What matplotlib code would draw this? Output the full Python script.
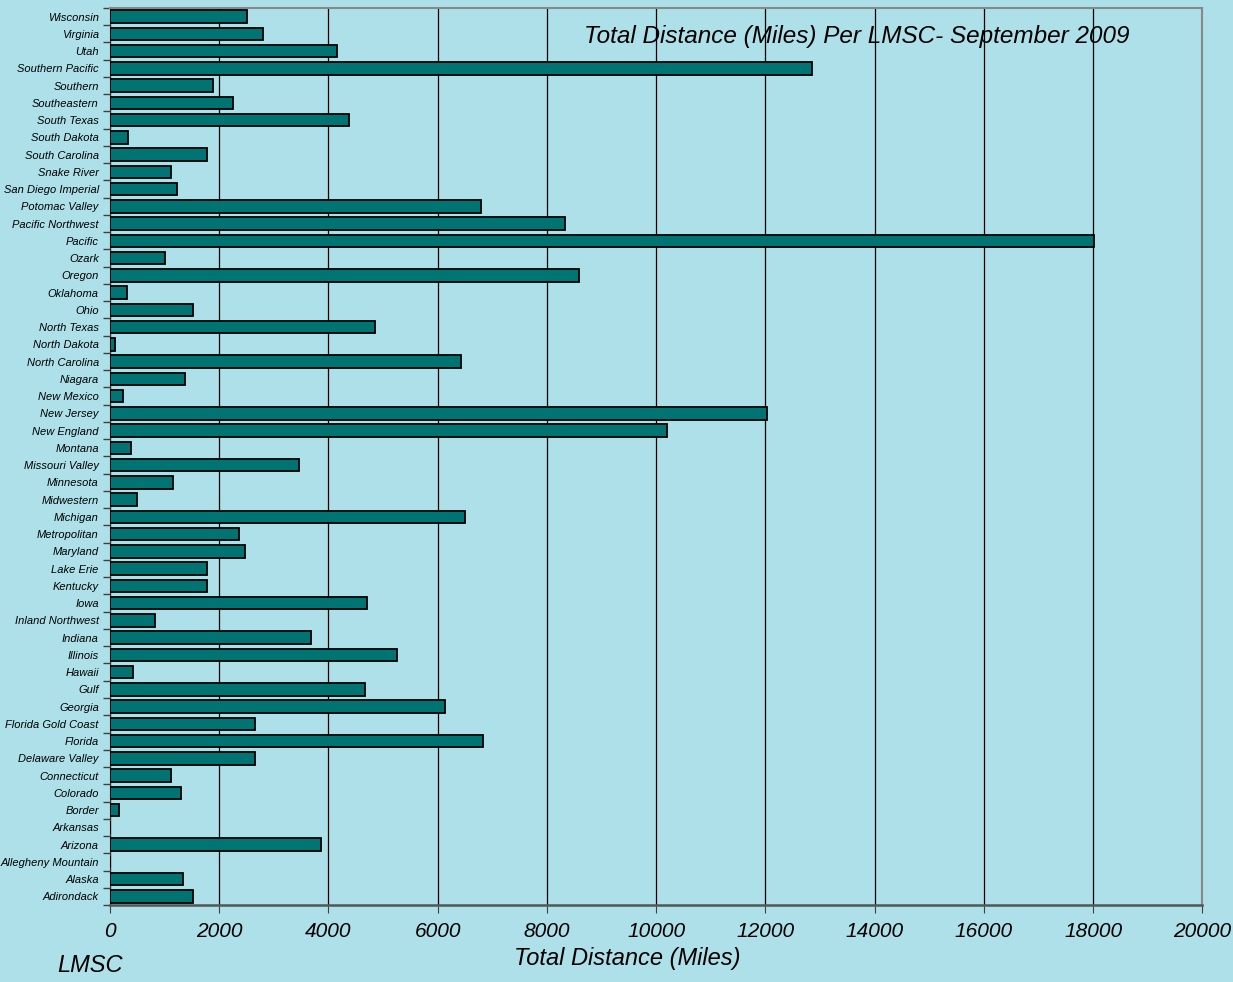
import matplotlib
matplotlib.use("Agg")
import matplotlib.pyplot as plt
import numpy as np
from matplotlib.ticker import FixedLocator

categories = ["Wisconsin", "Virginia", "Utah", "Southern Pacific", "Southern", "Southeastern",
              "South Texas", "South Dakota", "South Carolina", "Snake River", "San Diego Imperial",
              "Potomac Valley", "Pacific Northwest", "Pacific", "Ozark", "Oregon", "Oklahoma", "Ohio",
              "North Texas", "North Dakota", "North Carolina", "Niagara", "New Mexico", "New Jersey",
              "New England", "Montana", "Missouri Valley", "Minnesota", "Midwestern", "Michigan",
              "Metropolitan", "Maryland", "Lake Erie", "Kentucky", "Iowa", "Inland Northwest", "Indiana",
              "Illinois", "Hawaii", "Gulf", "Georgia", "Florida Gold Coast", "Florida", "Delaware Valley",
              "Connecticut", "Colorado", "Border", "Arkansas", "Arizona", "Allegheny Mountain", "Alaska",
              "Adirondack"]
distances = [2500, 2800, 4150, 12860, 1885, 2250, 4370, 330, 1775, 1115, 1225, 6790, 8330, 18020,
             1005, 8580, 310, 1520, 4850, 90, 6420, 1370, 240, 12020, 10190, 385, 3460, 1150, 495,
             6500, 2360, 2470, 1775, 1775, 4700, 825, 3680, 5250, 420, 4665, 6130, 2650, 6830, 2650,
             1115, 1300, 165, 0, 3860, 0, 1330, 1520]
xticks = [0, 2000, 4000, 6000, 8000, 10000, 12000, 14000, 16000, 18000, 20000]
title = "Total Distance (Miles) Per LMSC- September 2009"
xlabel = "Total Distance (Miles)"
ylabel = "LMSC"

plt.rcParams['font.family'] = ['Liberation Sans', 'DejaVu Sans']

bg = '#ade0e8'
fig = plt.figure(figsize=(12.33, 9.82), dpi=100, facecolor=bg)
ax = fig.add_axes([0.0892, 0.0784, 0.886, 0.9135])
ax.set_facecolor(bg)

n = len(categories)
ypos = np.arange(n)
ax.barh(ypos, distances, height=0.72, color='#007373', edgecolor='black', linewidth=1.3, zorder=3)

ax.set_ylim(n - 0.5, -0.5)
ax.set_xlim(0, 20000)
ax.set_xticks(xticks)
ax.set_xticklabels([str(t) for t in xticks], fontsize=15, style='italic')
ax.set_yticks(ypos)
ax.set_yticklabels(categories, fontsize=8, style='italic')
ax.yaxis.set_minor_locator(FixedLocator(np.arange(-0.5, n, 1.0)))
ax.tick_params(axis='y', which='major', length=0, pad=8)
ax.tick_params(axis='y', which='minor', length=5, color='#404040', width=1)
ax.tick_params(axis='x', which='major', length=6, color='#404040', pad=6)

ax.grid(axis='x', color='black', linewidth=0.9, zorder=1)
for side in ['top', 'right']:
    ax.spines[side].set_color('#888888')
    ax.spines[side].set_linewidth(1.5)
ax.spines['left'].set_color('#333333')
ax.spines['bottom'].set_color('#555555')
ax.spines['bottom'].set_linewidth(1.8)

ax.text(0.684, 0.968, title, transform=ax.transAxes, fontsize=17.5, style='italic',
        ha='center', va='center', zorder=5)
fig.text(0.5085, 0.024, xlabel, fontsize=17, style='italic', ha='center', va='center')
fig.text(0.073, 0.017, ylabel, fontsize=17, style='italic', ha='center', va='center')

fig.savefig('out.png', dpi=100, facecolor=bg)
